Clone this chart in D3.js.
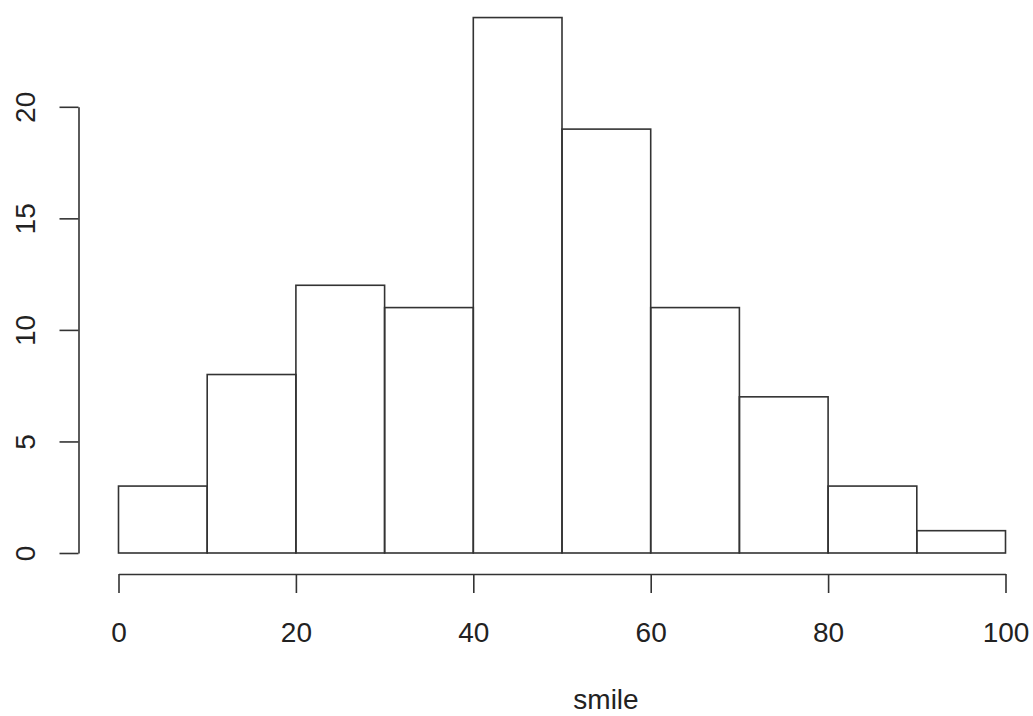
<!DOCTYPE html>
<html>
<head>
<meta charset="utf-8">
<script src="https://cdn.jsdelivr.net/npm/d3@7"></script>
<style>
  body { margin: 0; background: #fff; }
  svg { display: block; }
</style>
</head>
<body>
<svg id="drawing_region"></svg>
<script>
// histogram of smile, bins of width 10
const binStarts = [0, 10, 20, 30, 40, 50, 60, 70, 80, 90];
const counts = [3, 8, 12, 11, 24, 19, 11, 7, 3, 1];
const xTicks = [0, 20, 40, 60, 80, 100];
const yTicks = [0, 5, 10, 15, 20];
const xlabel = 'smile';

const data = binStarts.map((s, i) => ({ x0: s, x1: s + 10, count: counts[i] }));

const width = 1033, height = 716;
const ink = '#333';
const font = '"Liberation Sans", Arial, sans-serif';

const svg = d3.select('#drawing_region')
    .attr('width', width)
    .attr('height', height);

const xscale = d3.scaleLinear().domain([0, 100]).range([118.5, 1005.5]);
const yscale = d3.scaleLinear().domain([0, 20]).range([553, 106.8]);

// bars
svg.append('g').selectAll('rect')
    .data(data)
    .join('rect')
    .attr('x', d => xscale(d.x0))
    .attr('y', d => yscale(d.count))
    .attr('width', d => xscale(d.x1) - xscale(d.x0))
    .attr('height', d => yscale(0) - yscale(d.count))
    .attr('fill', 'none')
    .attr('stroke', ink)
    .attr('stroke-width', 1.6);

// x axis (R style: detached below the plot)
const xaxis = d3.axisBottom(xscale)
    .tickValues(xTicks)
    .tickSize(19)
    .tickSizeOuter(0)
    .tickPadding(10);

const xg = svg.append('g')
    .attr('transform', 'translate(0, 574)')
    .call(xaxis);
xg.select('.domain').attr('stroke', ink).attr('stroke-width', 1.6);
xg.selectAll('.tick line').attr('stroke', ink).attr('stroke-width', 1.6);
xg.selectAll('.tick text')
    .attr('fill', '#222')
    .style('font-family', font)
    .style('font-size', '28px')
    .attr('dy', null)
    .attr('y', 68);

// y axis with rotated labels
const yaxis = d3.axisLeft(yscale)
    .tickValues(yTicks)
    .tickSize(19)
    .tickSizeOuter(0);

const yg = svg.append('g')
    .attr('transform', 'translate(78.5, 0)')
    .call(yaxis);
yg.select('.domain').attr('stroke', ink).attr('stroke-width', 1.6);
yg.selectAll('.tick line').attr('stroke', ink).attr('stroke-width', 1.6);
yg.selectAll('.tick text')
    .attr('fill', '#222')
    .style('font-family', font)
    .style('font-size', '28px')
    .attr('x', null)
    .attr('dy', null)
    .attr('text-anchor', 'middle')
    .attr('transform', 'translate(-43.5, 0) rotate(-90)');

// x label
svg.append('text')
    .attr('x', 606)
    .attr('y', 709)
    .attr('text-anchor', 'middle')
    .attr('fill', '#222')
    .style('font-family', font)
    .style('font-size', '28px')
    .text(xlabel);
</script>
</body>
</html>
